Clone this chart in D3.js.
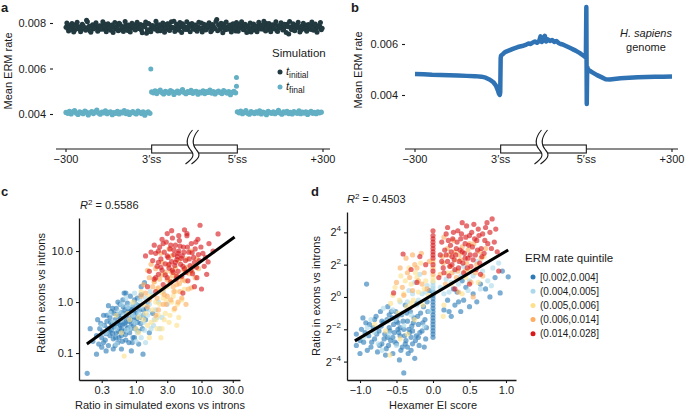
<!DOCTYPE html>
<html>
<head>
<meta charset="utf-8">
<script src="https://cdn.jsdelivr.net/npm/d3@7"></script>
<style>
body { margin: 0; background: #fff; }
svg text { font-family: "Liberation Sans", Arial, sans-serif; fill: #1a1a1a; }
</style>
</head>
<body>
<svg id="fig" width="685" height="412"></svg>
<script>
// ---------- data ----------
// panel a: simulated mean ERM rate, two interleaved samples every 4 positions
var stepA = 4;
var simNames = ["initial", "final"];
var simColors = ["#21393f", "#63afc4"];
var darkVals = [0.00781,0.00776,0.00790,0.00772,0.00785,0.00768,0.00794,0.00779,0.00783,0.00770,0.00788,0.00775,0.00812,0.00781,0.00766,0.00786,0.00774,0.00792,0.00779,0.00771,
0.00784,0.00789,0.00773,0.00795,0.00777,0.00782,0.00768,0.00791,0.00780,0.00774,0.00787,0.00799,0.00770,0.00783,0.00776,0.00792,0.00767,0.00785,0.00779,0.00788,
0.00772,0.00794,0.00781,0.00775,0.00769,0.00790,0.00784,0.00755,0.00798,0.00771,0.00786,0.00780,0.00773,0.00793,0.00778,0.00766,0.00789,0.00782,0.00775,0.00796,
0.00770,0.00785,0.00779,0.00808,0.00774,0.00788,0.00768,0.00783,0.00797,0.00776,0.00781,0.00771,0.00794,0.00786,0.00778,0.00790,0.00769,0.00784,0.00775,0.00800,
0.00779,0.00787,0.00772,0.00793,0.00781,0.00767,0.00789,0.00776,0.00815,0.00792,0.00773,0.00780,0.00796,0.00770,0.00784,0.00777,0.00791,0.00775,0.00788,0.00765,
0.00783,0.00794,0.00778,0.00786,0.00771,0.00790,0.00780,0.00774,0.00760,0.00782,0.00769,0.00787,0.00776,0.00792,0.00779,0.00773,0.00785,0.00798,0.00771,0.00781,
0.00788,0.00775,0.00793,0.00767,0.00784,0.00779,0.00790,0.00772,0.00786,0.00795,0.00752,0.00782,0.00770,0.00789,0.00776,0.00792,0.00780,0.00768,0.00785,0.00774,
0.00791,0.00779,0.00783,0.00771,0.00796,0.00786,0.00775,0.00781,0.00787,0.00770];
var darkVals2 = [0.00800,0.00765,0.00771,0.00798,0.00760,0.00789,0.00803,0.00774,0.00762,0.00795,0.00781,0.00768,0.00805,0.00786,0.00759,0.00792,0.00777,0.00801,0.00764,0.00788,
0.00772,0.00806,0.00783,0.00761,0.00797,0.00775,0.00790,0.00758,0.00802,0.00779,0.00766,0.00794,0.00785,0.00763,0.00807,0.00773,0.00791,0.00760,0.00799,0.00782,
0.00769,0.00803,0.00776,0.00793,0.00757,0.00787,0.00804,0.00770,0.00796,0.00762,0.00789,0.00778,0.00808,0.00765,0.00792,0.00774,0.00800,0.00759,0.00784,0.00797,
0.00767,0.00805,0.00780,0.00763,0.00794,0.00776,0.00802,0.00758,0.00790,0.00771,0.00806,0.00784,0.00761,0.00798,0.00773,0.00791,0.00764,0.00803,0.00778,0.00760,
0.00795,0.00769,0.00787,0.00801,0.00762,0.00793,0.00775,0.00807,0.00766,0.00788,0.00799,0.00757,0.00783,0.00804,0.00772,0.00790,0.00760,0.00797,0.00777,0.00802,
0.00764,0.00789,0.00806,0.00770,0.00794,0.00758,0.00785,0.00800,0.00768,0.00796,0.00779,0.00762,0.00803,0.00774,0.00791,0.00808,0.00765,0.00787,0.00798,0.00761,
0.00792,0.00776,0.00805,0.00763,0.00789,0.00801,0.00769,0.00795,0.00758,0.00784,0.00807,0.00772,0.00797,0.00766,0.00790,0.00803,0.00760,0.00786,0.00799,0.00775,
0.00764,0.00793,0.00781,0.00804,0.00768,0.00796,0.00759,0.00788,0.00802,0.00777];
var lightLeft = [0.00407,0.00403,0.00412,0.00400,0.00409,0.00415,0.00404,0.00398,0.00410,0.00406,0.00401,0.00413,0.00408,0.00396,0.00405,0.00411,0.00402,0.00409,0.00417,0.00404,
0.00399,0.00408,0.00405,0.00414,0.00401,0.00407,0.00410,0.00397,0.00406,0.00403,0.00412,0.00400,0.00408,0.00405,0.00415,0.00402,0.00409,0.00398,0.00406,0.00411,
0.00404,0.00400,0.00413,0.00407,0.00402,0.00409,0.00395,0.00405,0.00410,0.00403];
var lightMid = [0.00497,0.00493,0.00502,0.00490,0.00499,0.00505,0.00494,0.00488,0.00500,0.00496,0.00491,0.00503,0.00498,0.00486,0.00495,0.00501,0.00492,0.00499,0.00507,0.00494,
0.00489,0.00498,0.00495,0.00504,0.00491,0.00497,0.00500,0.00487,0.00496,0.00493,0.00502,0.00490,0.00498,0.00495,0.00505,0.00492,0.00499,0.00488,0.00496,0.00501,
0.00494,0.00490,0.00503,0.00497,0.00492,0.00499,0.00485,0.00495,0.00500,0.00493];
var lightRight = [0.00410,0.00405,0.00413,0.00401,0.00407,0.00415,0.00403,0.00399,0.00411,0.00406,0.00402,0.00409,0.00404,0.00414,0.00400,0.00408,0.00405,0.00397,0.00412,0.00406,
0.00403,0.00410,0.00401,0.00407,0.00416,0.00404,0.00399,0.00409,0.00405,0.00412,0.00402,0.00407,0.00400,0.00411,0.00406,0.00403,0.00414,0.00401,0.00408,0.00404,
0.00410,0.00398,0.00406,0.00412,0.00403,0.00407,0.00401,0.00409,0.00405,0.00408];
var lightOutliers = [[198, 0.00598], [398, 0.00560], [398, 0.00522]];
var aTicks = [0.004, 0.006, 0.008];

// panel b: H. sapiens genome profile
var bPos = [0,20,40,60,80,100,120,140,155,165,175,183,189,193,196,198,199,200,201,205,210,220,230,240,250,260,265,270,275,280,285,290,293,296,300,303,306,310,315,320,325,330,335,340,345,350,355,360,365,370,375,380,385,390,395,398,399,400,401,402,404,408,415,425,435,445,455,465,480,500,520,540,560,580,600];
var bVal = [0.00482,0.00481,0.00479,0.00478,0.00477,0.00476,0.00475,0.00474,0.00472,0.00468,0.00460,0.00450,0.00437,0.00420,0.00405,0.00400,0.00410,0.00545,0.00555,0.00560,0.00568,0.00575,0.00582,0.00588,0.00592,0.00598,0.00602,0.00600,0.00606,0.00610,0.00605,0.00612,0.00630,0.00608,0.00615,0.00632,0.00610,0.00618,0.00612,0.00616,0.00608,0.00612,0.00604,0.00600,0.00598,0.00594,0.00590,0.00586,0.00582,0.00578,0.00574,0.00569,0.00564,0.00558,0.00552,0.00548,0.00560,0.00745,0.00365,0.00510,0.00500,0.00495,0.00488,0.00478,0.00470,0.00462,0.00461,0.00463,0.00466,0.00468,0.00470,0.00471,0.00472,0.00472,0.00473];
var bTicks = [0.004, 0.006];

// gene schematic
var geneTicks = [0, 200, 400, 600];
var geneLabels = ["\u2212300", "3\u2032ss", "5\u2032ss", "+300"];

// quintiles (panels c and d)
var quintiles = ["[0.002,0.004]", "(0.004,0.005]", "(0.005,0.006]", "(0.006,0.014]", "(0.014,0.028]"];
var qColors = ["#2c7bb6", "#abd9e9", "#fee08b", "#fdae61", "#d7191c"];

// panel c: [simulated ratio, observed ratio]
var cBlue = [[0.22,0.17],[0.25,0.22],[0.27,0.15],[0.28,0.3],[0.3,0.2],[0.31,0.26],[0.33,0.35],[0.34,0.18],[0.35,0.24],[0.36,0.42],[0.37,0.3],[0.38,0.14],[0.4,0.22],[0.4,0.5],[0.42,0.28],[0.43,0.36],[0.45,0.19],[0.46,0.6],[0.47,0.32],[0.48,0.45],[0.5,0.25],[0.5,0.75],[0.52,0.38],[0.53,0.16],[0.55,0.52],[0.56,0.3],[0.57,0.9],[0.58,0.42],[0.6,0.22],[0.6,0.62],[0.62,0.35],[0.63,1.1],[0.65,0.48],[0.66,0.27],[0.68,0.7],[0.7,0.4],[0.7,0.18],[0.72,0.55],[0.74,0.95],[0.75,0.32],[0.77,0.46],[0.8,0.25],[0.8,0.65],[0.82,1.3],[0.85,0.38],[0.87,0.52],[0.9,0.2],[0.9,0.8],[0.93,0.44],[0.95,1.1],[0.98,0.3],[1.0,0.6],[1.05,0.4],[1.1,0.85],[1.1,0.15],[1.15,0.5],[1.2,1.4],[1.25,0.3],[1.3,0.7],[1.35,2.4],[1.4,0.45],[1.5,1.0],[1.6,0.25],[0.35,0.11],[0.45,0.12],[0.25,0.095],[0.26,0.45],[0.6,0.12],[0.85,0.11],[0.2,0.3],[1.8,0.6],[1.28,0.095],[0.18,0.04],[0.32,0.55],[0.55,0.2],[0.78,0.16],[1.0,0.9],[0.44,0.75],[0.66,1.5],[1.2,2.0],
[0.29,0.38],[0.32,0.16],[0.36,0.55],[0.39,0.27],[0.41,0.4],[0.44,0.24],[0.46,0.33],[0.49,0.2],[0.51,0.58],[0.54,0.27],[0.57,0.35],[0.59,0.48],[0.61,0.28],[0.64,0.8],[0.67,0.38],[0.69,0.23],[0.71,0.6],[0.73,0.3],[0.76,0.75],[0.79,0.42],[0.83,0.3],[0.86,0.7],[0.88,0.16],[0.92,0.35],[0.96,0.62],[1.02,0.48],[1.08,0.27],[1.12,0.7],[1.18,0.38],[1.3,0.55],[1.45,0.75],[0.53,1.0],[0.42,0.65],[0.3,0.13],[0.48,0.14],[0.62,0.17],[0.95,0.2],[1.05,1.2],[0.7,1.5],[0.38,0.85]];
var cLight = [[0.45,0.4],[0.55,0.65],[0.65,0.55],[0.75,0.8],[0.8,0.3],[0.9,0.55],[1.0,0.9],[1.05,0.25],[1.1,0.6],[1.2,0.8],[1.3,0.4],[1.4,1.2],[1.5,0.55],[1.6,0.9],[1.7,0.3],[1.8,1.4],[2.0,0.7],[2.2,1.0],[2.5,0.5],[0.35,0.25],[0.5,0.3],[0.7,1.2],[1.2,0.2],[2.6,1.6],[1.9,0.45],[0.95,1.5],[3.0,0.9],[0.6,0.9],[1.4,0.16],[2.3,0.3],
[0.4,0.6],[0.6,0.45],[0.72,0.28],[0.85,0.9],[0.95,0.4],[1.15,1.1],[1.25,0.55],[1.35,0.28],[1.55,0.7],[1.65,1.6],[1.85,0.35],[2.1,0.5],[0.3,0.35],[0.5,0.15],[1.0,0.17]];
var cYellow = [[1.1,0.5],[1.3,0.9],[1.5,0.35],[1.6,1.3],[1.8,0.7],[2.0,0.45],[2.1,1.8],[2.3,0.9],[2.5,0.3],[2.6,1.2],[2.8,0.6],[3.0,2.0],[3.2,0.4],[3.5,1.0],[3.8,0.7],[4.0,1.6],[4.5,0.5],[5.0,1.1],[0.66,0.087],[0.8,0.45],[1.0,0.3],[1.9,2.5],[2.4,0.2],[3.3,2.8],[4.2,0.35],[0.6,0.25],[1.2,1.6],[2.7,0.45],[5.5,1.8],[0.9,1.0],
[1.4,0.6],[1.7,0.4],[2.0,1.0],[2.2,0.55],[2.5,1.5],[2.9,1.1],[3.3,0.55],[3.7,1.3],[4.3,0.9],[1.1,0.25],[1.6,0.2],[2.1,0.3],[0.5,0.55],[0.75,0.6],[1.3,0.45]];
var cOrange = [[1.4,1.5],[1.6,3.0],[1.8,2.0],[2.0,4.5],[2.1,1.2],[2.3,2.8],[2.5,6.0],[2.6,1.8],[2.8,3.8],[3.0,1.3],[3.1,5.2],[3.3,2.4],[3.5,8.0],[3.6,3.3],[3.8,1.6],[4.0,4.6],[4.2,2.2],[4.5,6.5],[4.8,3.0],[5.0,1.2],[5.3,4.2],[5.6,2.6],[6.0,7.0],[6.5,3.6],[7.0,1.9],[7.5,5.0],[8.0,3.0],[1.5,0.8],[2.2,0.7],[2.9,0.9],[3.9,0.75],[1.7,5.5],[2.4,9.0],[3.2,11],[6.8,10],[9,4.5],[1.3,2.2],[4.4,1.0],[5.8,0.9],[2.0,0.55],
[1.6,1.1],[1.9,2.5],[2.2,1.9],[2.5,3.4],[2.7,1.4],[3.0,2.7],[3.4,4.0],[3.7,2.0],[4.1,3.4],[4.6,2.3],[5.1,2.7],[5.9,4.8],[6.3,1.8],[7.2,3.9],[1.2,1.3],[1.5,4.2],[2.6,0.9],[3.4,1.1],[4.7,1.6],[8.5,7]];
var cRed = [[1.6,4.0],[1.8,6.5],[1.9,2.8],[2.0,9.0],[2.1,5.0],[2.2,3.5],[2.3,12],[2.4,7.0],[2.5,4.2],[2.6,2.2],[2.7,9.5],[2.8,5.6],[2.9,15],[3.0,3.0],[3.1,7.5],[3.2,4.6],[3.3,11],[3.4,2.5],[3.5,6.2],[3.6,18],[3.7,3.8],[3.8,8.5],[3.9,5.2],[4.0,13],[4.1,2.8],[4.2,6.8],[4.4,4.0],[4.5,10],[4.6,16],[4.8,5.5],[5.0,3.2],[5.1,8.0],[5.3,12],[5.5,4.5],[5.7,6.5],[6.0,20],[6.2,2.6],[6.4,9.5],[6.7,5.2],[7.0,14],[7.3,3.6],[7.6,7.5],[8.0,11],[8.4,4.8],[8.8,17],[9.2,6.5],[9.5,32],[10,1.8],[10.5,9],[11,5],[12.6,6.1],[13,14],[17.9,21.6],[15,10],[1.5,2.0],[2.0,1.6],[5.2,1.5],[7.8,2.0],[1.4,8.0],[3.0,22],[6.0,22],[2.2,6.0],[4.3,7.8],
[2.0,3.0],[2.2,10],[2.4,4.8],[2.6,14],[2.8,3.4],[3.0,8.0],[3.2,5.5],[3.4,13],[3.6,4.2],[3.8,10.5],[4.0,6.0],[4.2,3.2],[4.4,9.0],[4.7,12.5],[4.9,7.2],[5.2,5.0],[5.4,9.5],[5.8,3.8],[6.1,12],[6.5,7.0],[6.9,4.2],[7.2,9.2],[7.8,6.0],[8.2,15],[9.0,8.5],[9.8,12],[11.5,7.5],[2.5,17],[3.5,25],[4.5,20],[1.7,9.5],[1.9,13],[12,3.5],[8.5,3.0],[5.5,26]];
var cFitX = [0.178, 32];
var cFitY = [0.15, 18.8];
var cXTicks = [0.3, 1, 3, 10, 30];
var cYTicks = [0.1, 1, 10];

// panel d: [hexamer EI score, log2 ratio]
var dBlue = [[-1.05,-2.3],[-1.05,-3.0],[-1.0,-3.5],[-0.98,-2.0],[-0.95,-2.8],[-0.92,-1.6],[-0.9,-3.3],[-0.91,0.8],[-0.88,-2.4],[-0.85,-3.1],[-0.82,-1.9],[-0.8,-2.6],[-0.78,-1.2],[-0.76,-3.4],[-0.74,-2.1],[-0.72,-0.9],[-0.7,-2.9],[-0.68,-1.6],[-0.66,-2.3],[-0.64,-3.2],[-0.62,-0.6],[-0.6,-1.9],[-0.58,-2.7],[-0.56,-1.3],[-0.55,-3.5],[-0.53,-2.2],[-0.51,-0.9],[-0.5,-2.9],[-0.48,-1.6],[-0.46,-3.9],[-0.45,-2.4],[-0.43,-1.1],[-0.42,-3.1],[-0.4,-4.7],[-0.4,-2.0],[-0.38,-0.5],[-0.37,-2.7],[-0.35,-1.5],[-0.34,-3.5],[-0.32,-2.2],[-0.31,-0.9],[-0.29,-1.8],[-0.28,-2.9],[-0.26,-1.3],[-0.25,-3.8],[-0.23,-2.4],[-0.22,-0.4],[-0.2,-1.7],[-0.19,-3.0],[-0.17,-1.0],[-0.15,-2.1],[-0.13,-0.6],[-0.11,-1.4],[-0.1,-2.6],[-0.6,-1.1],[-0.7,-1.5],[-0.48,-2.0],[-0.3,-2.5],[-0.55,-2.5],[-0.35,-3.1],[-0.65,-3.6],[-0.08,-0.3],[-0.05,0.4],
[-1.0,-2.7],[-0.96,-1.3],[-0.93,-2.2],[-0.87,-1.7],[-0.84,-2.8],[-0.8,-1.4],[-0.77,-2.3],[-0.73,-3.0],[-0.71,-1.8],[-0.67,-2.6],[-0.63,-1.4],[-0.61,-3.0],[-0.59,-2.1],[-0.57,-0.9],[-0.54,-1.7],[-0.52,-2.8],[-0.49,-1.2],[-0.47,-2.2],[-0.44,-3.3],[-0.41,-1.5],[-0.39,-2.4],[-0.36,-1.0],[-0.33,-2.0],[-0.3,-3.3],[-0.27,-1.6],[-0.24,-2.7],[-0.21,-1.2],[-0.18,-2.2],[-0.14,-1.6],[-0.12,-3.1],[-0.09,-1.9],[-0.07,-0.9],[-0.45,-1.9],[-0.38,-2.9],[-0.28,-2.1],[-0.62,-2.5],[-0.5,-1.5],[-0.2,-2.5],
[0.15,-0.8],[0.2,-0.2],[0.25,-1.2],[0.3,-0.5],[0.33,0.3],[0.38,-0.9],[0.42,-0.2],[0.45,0.6],[0.5,-0.6],[0.55,0.2],[0.6,-0.3],[0.65,0.8],[0.72,0.5],[0.78,0.0],[0.85,1.2],[0.92,0.25],[1.03,1.25],[0.95,1.6],[0.4,1.0],[0.28,0.5],[0.22,-0.9],[0.35,-0.3],
[0,-2.5],[0,-2.3],[0,-2.1],[0,-1.9],[0,-1.7],[0,-1.5],[0,-1.3],[0,-1.1],[0,-0.9],[0,-0.7],[0,-0.5],[0,-0.3],[0,-0.1],[0,0.1],[0,0.3]];
var dLight = [[-0.95,-2.5],[-0.85,-1.4],[-0.75,-2.9],[-0.68,-0.7],[-0.6,-2.3],[-0.52,-1.4],[-0.45,-0.3],[-0.4,-1.8],[-0.33,0.4],[-0.3,-1.1],[-0.25,0.9],[-0.22,-0.5],[-0.18,1.4],[-0.15,0.2],[-0.12,-1.8],[-0.08,0.7],[-0.05,-0.9],[0.1,0.6],[0.18,1.1],[0.22,0.3],[0.3,1.6],[0.35,0.8],[0.42,1.9],[0.48,0.4],[0.55,1.3],[0.6,2.2],[0.68,1.6],[0.75,1.0],[0.82,1.8],[0.9,2.1],[-0.7,-3.3],[-0.5,-3.0],
[-0.9,-1.9],[-0.8,-2.2],[-0.62,-1.5],[-0.55,-0.8],[-0.42,-1.0],[-0.35,-0.3],[-0.28,0.2],[-0.2,-0.2],[-0.1,0.3],[0.15,0.2],[0.25,0.9],[0.38,1.3],[0.5,1.0],[0.65,0.5],[0.8,0.7],
[0,0.4],[0,0.55],[0,0.7],[0,0.9]];
var dYellow = [[-0.59,-3.6],[-0.58,-0.4],[-0.52,0.6],[-0.48,-1.0],[-0.44,1.3],[-0.4,0.2],[-0.36,-0.6],[-0.33,1.8],[-0.3,0.8],[-0.27,-0.2],[-0.24,1.5],[-0.2,0.3],[-0.17,2.1],[-0.14,-0.5],[-0.1,1.0],[-0.06,0.1],[-0.8,-1.7],[-0.65,-2.1],[-0.35,-2.3],[0.15,-0.5],[0.2,1.5],[0.3,2.3],[0.4,0.2],[0.5,1.7],[0.62,0.9],[0.7,2.5],[0.14,-1.2],
[-0.55,0.1],[-0.46,-0.2],[-0.38,1.0],[-0.3,-0.4],[-0.22,1.2],[-0.12,0.5],[-0.45,-2.6],[-0.25,-1.4],[0.25,0.8],[0.45,1.2],
[0,1.0],[0,1.2]];
var dOrange = [[-0.5,0.9],[-0.45,1.8],[-0.4,0.1],[-0.37,2.4],[-0.32,1.2],[-0.28,0.4],[-0.25,2.0],[-0.2,1.0],[-0.16,2.7],[-0.12,1.5],[-0.08,0.5],[-0.05,2.2],[0.1,1.4],[0.13,2.5],[0.17,0.8],[0.2,3.0],[0.24,1.9],[0.28,3.5],[0.32,1.2],[0.36,2.6],[0.4,3.1],[0.44,1.6],[0.48,2.9],[0.52,0.9],[0.56,3.3],[0.6,2.0],[0.64,2.8],[0.68,1.3],[0.72,3.0],[0.15,3.7],[0.35,0.3],[0.55,0.0],
[0.14,2.1],[0.22,2.6],[0.26,1.5],[0.3,2.8],[0.34,1.6],[0.38,2.3],[0.46,2.1],[0.5,3.3],[0.58,1.5],[0.66,2.4],[-0.35,1.5],[-0.22,1.8],[-0.15,0.8],[-0.42,0.6],[-0.28,2.6],
[0,1.4],[0,1.8],[0,2.2]];
var dRed = [[0.08,1.2],[0.1,2.6],[0.12,3.4],[0.14,1.8],[0.16,2.9],[0.18,3.9],[0.2,2.2],[0.22,1.3],[0.24,3.2],[0.26,2.5],[0.28,4.0],[0.3,1.7],[0.32,3.0],[0.34,4.1],[0.36,2.2],[0.38,3.6],[0.4,2.8],[0.42,1.5],[0.44,3.3],[0.46,4.4],[0.48,2.4],[0.5,3.8],[0.52,1.9],[0.54,3.1],[0.56,4.5],[0.58,2.6],[0.6,3.5],[0.62,4.2],[0.64,2.1],[0.66,3.0],[0.68,3.9],[0.7,2.7],[0.72,4.3],[0.75,3.3],[0.78,4.0],[0.81,4.83],[0.84,3.4],[0.88,2.8],[0.5,0.8],[0.3,0.5],[0.2,4.3],[0.4,4.6],[0.65,1.4],[0.9,1.6],[0.26,2.0],[0.44,2.4],
[0.12,2.2],[0.15,1.5],[0.18,2.6],[0.21,3.5],[0.23,1.9],[0.25,2.8],[0.27,3.6],[0.29,2.3],[0.31,2.6],[0.33,3.4],[0.35,1.8],[0.37,2.9],[0.39,3.9],[0.41,2.1],[0.43,2.7],[0.45,3.7],[0.47,1.8],[0.49,3.2],[0.51,2.6],[0.53,4.0],[0.55,2.3],[0.57,3.6],[0.59,1.7],[0.61,2.9],[0.63,3.8],[0.67,2.5],[0.71,3.5],[0.74,4.6],[0.8,3.0],[0.86,4.2],
[-0.41,2.66],[-0.18,2.5],[-0.54,0.25],[-0.3,1.7],[-0.1,2.0],[-0.22,0.9],
[0,1.6],[0,2.0],[0,2.4],[0,2.6],[0,2.8],[0,3.0],[0,3.2],[0,3.4],[0,3.6],[0,3.8],[0,4.1]];
var dFitX = [-1.07, 1.03];
var dFitY = [-2.72, 2.91];
var dXTicks = [-1, -0.5, 0, 0.5, 1];
var dYTicks = [-4, -2, 0, 2, 4];

// ---------- drawing ----------
var svg = d3.select("#fig");
var ink = "#1a1a1a";

function styleAxis(g) {
    g.selectAll("text").attr("font-size", 11).attr("fill", ink);
    g.selectAll(".tick line").attr("stroke", ink).attr("stroke-width", 1.1);
    g.select(".domain").attr("stroke", ink).attr("stroke-width", 1.3);
}

function yTitle(x, y, label) {
    svg.append("text")
        .attr("transform", "translate(" + x + "," + y + ") rotate(-90)")
        .attr("text-anchor", "middle")
        .attr("font-size", 11)
        .text(label);
}

function panelLabel(x, y, label) {
    svg.append("text").attr("x", x).attr("y", y)
        .attr("font-size", 13).attr("font-weight", "bold").text(label);
}

function rSquared(x, y, val) {
    var t = svg.append("text").attr("x", x).attr("y", y).attr("font-size", 11);
    t.append("tspan").attr("font-style", "italic").text("R");
    t.append("tspan").attr("dy", -4).attr("font-size", 8).text("2");
    t.append("tspan").attr("dy", 4).text(" = " + val);
}

// exon/intron schematic under panels a and b
function drawGene(xs, y0, x0, x1) {
    var g = svg.append("g");
    g.append("line").attr("x1", x0).attr("x2", x1).attr("y1", y0).attr("y2", y0)
        .attr("stroke", ink).attr("stroke-width", 1.2);
    g.selectAll(".gt").data([geneTicks[0], geneTicks[3]]).enter().append("line")
        .attr("x1", d => xs(d)).attr("x2", d => xs(d))
        .attr("y1", y0).attr("y2", y0 + 3)
        .attr("stroke", ink).attr("stroke-width", 1.1);
    g.append("rect")
        .attr("x", xs(geneTicks[1])).attr("y", y0 - 4)
        .attr("width", xs(geneTicks[2]) - xs(geneTicks[1])).attr("height", 8)
        .attr("fill", "#fff").attr("stroke", ink).attr("stroke-width", 1.1);
    var cx = (xs(geneTicks[1]) + xs(geneTicks[2])) / 2 - 3, cy = y0;
    var left = "M" + (cx + 1) + "," + (cy - 19) +
        " C" + (cx - 5) + "," + (cy - 12) + " " + (cx - 6) + "," + (cy - 5) + " " + (cx - 1) + "," + (cy + 1) +
        " C" + (cx + 4) + "," + (cy + 6) + " " + (cx + 1) + "," + (cy + 10) + " " + (cx - 6) + "," + (cy + 15);
    var right = "M" + (cx + 7) + "," + (cy - 19) +
        " C" + (cx + 1) + "," + (cy - 12) + " " + cx + "," + (cy - 5) + " " + (cx + 5) + "," + (cy + 1) +
        " C" + (cx + 10) + "," + (cy + 6) + " " + (cx + 7) + "," + (cy + 10) + " " + cx + "," + (cy + 15);
    var fill = left + " L" + cx + "," + (cy + 15) +
        " C" + (cx + 7) + "," + (cy + 10) + " " + (cx + 10) + "," + (cy + 6) + " " + (cx + 5) + "," + (cy + 1) +
        " C" + cx + "," + (cy - 5) + " " + (cx + 1) + "," + (cy - 12) + " " + (cx + 7) + "," + (cy - 19) + " Z";
    g.append("path").attr("d", fill).attr("fill", "#fff").attr("stroke", "none");
    g.append("path").attr("d", left).attr("fill", "none").attr("stroke", ink).attr("stroke-width", 1.1);
    g.append("path").attr("d", right).attr("fill", "none").attr("stroke", ink).attr("stroke-width", 1.1);
    g.selectAll(".gl").data(geneTicks).enter().append("text")
        .attr("x", d => xs(d)).attr("y", y0 + 14)
        .attr("text-anchor", "middle").attr("font-size", 11)
        .text((d, i) => geneLabels[i]);
}

// ---- panel a ----
var xA = d3.scaleLinear().domain([0, 600]).range([66, 323]);
var yA = d3.scaleLinear().domain([0.004, 0.008]).range([114, 23]);

svg.append("g").attr("transform", "translate(53,0)")
    .call(d3.axisLeft(yA).tickValues(aTicks).tickFormat(d3.format(".3f")).tickSize(3).tickPadding(4))
    .call(g => g.select(".domain").remove())
    .call(styleAxis);

[[0, darkVals], [2, darkVals2]].forEach(function (s) {
    svg.append("g").selectAll("circle").data(s[1]).enter().append("circle")
        .attr("cx", (d, i) => xA(s[0] + i * stepA)).attr("cy", d => yA(d)).attr("r", 2.5)
        .attr("fill", simColors[0]);
});

var lightSegs = [[0, lightLeft], [200, lightMid], [400, lightRight]];
lightSegs.forEach(function (seg) {
    svg.append("g").selectAll("circle").data(seg[1]).enter().append("circle")
        .attr("cx", (d, i) => xA(seg[0] + i * stepA)).attr("cy", d => yA(d)).attr("r", 2.6)
        .attr("fill", simColors[1]);
});
svg.append("g").selectAll("circle").data(lightOutliers).enter().append("circle")
    .attr("cx", d => xA(d[0])).attr("cy", d => yA(d[1])).attr("r", 2.5)
    .attr("fill", simColors[1]);

yTitle(12, 71, "Mean ERM rate");
panelLabel(1, 12, "a");

// legend a
svg.append("text").attr("x", 272).attr("y", 57).attr("font-size", 11.5).text("Simulation");
simNames.forEach(function (s, i) {
    var yy = 72 + i * 15;
    svg.append("circle").attr("cx", 280).attr("cy", yy).attr("r", 2.5).attr("fill", simColors[i]);
    var t = svg.append("text").attr("x", 286).attr("y", yy + 3).attr("font-size", 11);
    t.append("tspan").attr("font-style", "italic").text("t");
    t.append("tspan").attr("dy", 3).attr("font-size", 8.5).text(s);
});

drawGene(xA, 149, 56, 330);

// ---- panel b ----
var xB = d3.scaleLinear().domain([0, 600]).range([415, 672]);
var yB = d3.scaleLinear().domain([0.004, 0.006]).range([95, 44]);

svg.append("g").attr("transform", "translate(405,0)")
    .call(d3.axisLeft(yB).tickValues(bTicks).tickFormat(d3.format(".3f")).tickSize(3).tickPadding(4))
    .call(g => g.select(".domain").remove())
    .call(styleAxis);

svg.append("path")
    .datum(bPos.map((p, i) => [p, bVal[i]]))
    .attr("d", d3.line().x(d => xB(d[0])).y(d => yB(d[1])))
    .attr("fill", "none").attr("stroke", "#2f73b4").attr("stroke-width", 4.5)
    .attr("stroke-linejoin", "round");

yTitle(362, 70, "Mean ERM rate");
panelLabel(351, 12, "b");
svg.append("text").attr("x", 646).attr("y", 37).attr("text-anchor", "middle")
    .attr("font-size", 11).attr("font-style", "italic").text("H. sapiens");
svg.append("text").attr("x", 646).attr("y", 51).attr("text-anchor", "middle")
    .attr("font-size", 11).text("genome");

drawGene(xB, 149, 405, 678);

// ---- panel c ----
var xC = d3.scaleLog().domain([0.135, 38.7]).range([79, 240]);
var yC = d3.scaleLog().domain([0.0296, 44.4]).range([380, 218]);

[cBlue, cLight, cYellow, cOrange, cRed].forEach(function (pts, qi) {
    svg.append("g").selectAll("circle").data(pts).enter().append("circle")
        .attr("cx", d => xC(d[0])).attr("cy", d => yC(d[1])).attr("r", 2.6)
        .attr("fill", qColors[qi]).attr("fill-opacity", 0.62);
});
svg.append("path")
    .datum(cFitX.map((x, i) => [x, cFitY[i]]))
    .attr("d", d3.line().x(d => xC(d[0])).y(d => yC(d[1])))
    .attr("stroke", "#000").attr("stroke-width", 3);

svg.append("g").attr("transform", "translate(79,0)")
    .call(d3.axisLeft(yC).tickValues(cYTicks).tickFormat(d3.format(".1f")).tickSize(3).tickSizeOuter(0).tickPadding(3))
    .call(styleAxis);
svg.append("g").attr("transform", "translate(0,380)")
    .call(d3.axisBottom(xC).tickValues(cXTicks).tickFormat(d3.format(".1f")).tickSize(3).tickSizeOuter(0).tickPadding(3))
    .call(styleAxis);

yTitle(45, 293, "Ratio in exons vs introns");
svg.append("text").attr("x", 160).attr("y", 409).attr("text-anchor", "middle")
    .attr("font-size", 11).text("Ratio in simulated exons vs introns");
rSquared(80, 209, "0.5586");
panelLabel(1, 196, "c");

// ---- panel d ----
var xD = d3.scaleLinear().domain([-1.178, 1.137]).range([347, 516]);
var yD = d3.scaleLinear().domain([-5.14, 5.26]).range([380, 212]);

[dBlue, dLight, dYellow, dOrange, dRed].forEach(function (pts, qi) {
    svg.append("g").selectAll("circle").data(pts).enter().append("circle")
        .attr("cx", d => xD(d[0])).attr("cy", d => yD(d[1])).attr("r", 2.6)
        .attr("fill", qColors[qi]).attr("fill-opacity", 0.62);
});
svg.append("path")
    .datum(dFitX.map((x, i) => [x, dFitY[i]]))
    .attr("d", d3.line().x(d => xD(d[0])).y(d => yD(d[1])))
    .attr("stroke", "#000").attr("stroke-width", 3);

svg.append("g").attr("transform", "translate(347,0)")
    .call(d3.axisLeft(yD).tickValues(dYTicks).tickFormat("").tickSize(3).tickSizeOuter(0).tickPadding(3))
    .call(styleAxis)
    .call(g => g.selectAll(".tick text").each(function (d) {
        var t = d3.select(this);
        t.append("tspan").text("2");
        t.append("tspan").attr("dy", -5).attr("font-size", 8).text(d < 0 ? "\u2212" + (-d) : d);
    }));
svg.append("g").attr("transform", "translate(0,380)")
    .call(d3.axisBottom(xD).tickValues(dXTicks).tickFormat(d => d3.format(".1f")(d).replace("-", "\u2212")).tickSize(3).tickSizeOuter(0).tickPadding(3))
    .call(styleAxis);

yTitle(320, 296, "Ratio in exons vs introns");
svg.append("text").attr("x", 433).attr("y", 409).attr("text-anchor", "middle")
    .attr("font-size", 11).text("Hexamer EI score");
rSquared(347, 203, "0.4503");
panelLabel(311, 196, "d");

// legend d
svg.append("text").attr("x", 525).attr("y", 262).attr("font-size", 11.5).text("ERM rate quintile");
quintiles.forEach(function (q, i) {
    var yy = 277 + i * 14.2;
    svg.append("circle").attr("cx", 533).attr("cy", yy).attr("r", 2.5).attr("fill", qColors[i]);
    svg.append("text").attr("x", 540).attr("y", yy + 3.5).attr("font-size", 10).text(q);
});
</script>
</body>
</html>
